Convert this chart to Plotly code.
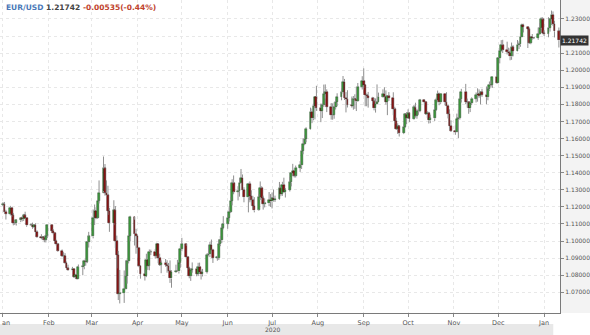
import pandas as pd
import plotly.graph_objects as go

# ---- data: EUR/USD daily, 2020-01-01 .. 2021-01-11 (weekdays) ----
dates = pd.bdate_range("2020-01-01", "2021-01-11")

close = [
    # Jan 2020
    1.1215, 1.1172, 1.1160, 1.1195, 1.1151, 1.1105, 1.1104, 1.1121, 1.1133, 1.1128, 1.1150, 1.1136,
    1.1092, 1.1097, 1.1082, 1.1093, 1.1053, 1.1025, 1.1019, 1.1021, 1.1008, 1.1032, 1.1093,
    # Feb
    1.1060, 1.1045, 1.1001, 1.0981, 1.0944, 1.0913, 1.0914, 1.0873, 1.0840, 1.0831, 1.0837, 1.0791,
    1.0803, 1.0780, 1.0847, 1.0852, 1.0882, 1.0880, 1.0995, 1.1027,
    # Mar
    1.1136, 1.1177, 1.1136, 1.1237, 1.1284, 1.1425, 1.1284, 1.1268, 1.1177, 1.1106, 1.1180, 1.1000,
    1.0918, 1.0692, 1.0695, 1.0722, 1.0794, 1.0883, 1.1030, 1.1142, 1.1044, 1.1031,
    # Apr
    1.0962, 1.0855, 1.0808, 1.0795, 1.0892, 1.0856, 1.0936, 1.0937, 1.0914, 1.0985, 1.0902, 1.0862,
    1.0874, 1.0862, 1.0857, 1.0823, 1.0781, 1.0820, 1.0826, 1.0822, 1.0874, 1.0955,
    # May
    1.0982, 1.0906, 1.0840, 1.0795, 1.0832, 1.0837, 1.0808, 1.0850, 1.0818, 1.0806, 1.0820, 1.0917,
    1.0923, 1.0977, 1.0950, 1.0902, 1.0902, 1.0981, 1.1004, 1.1076, 1.1102,
    # Jun
    1.1135, 1.1172, 1.1235, 1.1338, 1.1290, 1.1293, 1.1342, 1.1370, 1.1300, 1.1256, 1.1335, 1.1263,
    1.1243, 1.1206, 1.1179, 1.1257, 1.1309, 1.1250, 1.1218, 1.1220, 1.1243, 1.1232,
    # Jul
    1.1251, 1.1240, 1.1246, 1.1309, 1.1275, 1.1330, 1.1286, 1.1300, 1.1343, 1.1397, 1.1412, 1.1383,
    1.1428, 1.1443, 1.1526, 1.1569, 1.1596, 1.1656, 1.1755, 1.1719, 1.1790, 1.1846, 1.1778,
    # Aug
    1.1761, 1.1799, 1.1860, 1.1874, 1.1786, 1.1737, 1.1739, 1.1784, 1.1813, 1.1843, 1.1870, 1.1931,
    1.1838, 1.1830, 1.1797, 1.1792, 1.1832, 1.1829, 1.1818, 1.1904, 1.1937,
    # Sep
    1.1913, 1.1854, 1.1850, 1.1837, 1.1817, 1.1777, 1.1803, 1.1813, 1.1845, 1.1862, 1.1846, 1.1814,
    1.1848, 1.1838, 1.1771, 1.1703, 1.1657, 1.1671, 1.1631, 1.1667, 1.1741, 1.1721,
    # Oct
    1.1748, 1.1716, 1.1782, 1.1734, 1.1760, 1.1762, 1.1825, 1.1812, 1.1745, 1.1748, 1.1706, 1.1718,
    1.1768, 1.1823, 1.1861, 1.1812, 1.1860, 1.1812, 1.1792, 1.1746, 1.1673, 1.1647,
    # Nov
    1.1641, 1.1715, 1.1722, 1.1830, 1.1875, 1.1813, 1.1812, 1.1777, 1.1808, 1.1834, 1.1854, 1.1862,
    1.1852, 1.1871, 1.1857, 1.1842, 1.1888, 1.1915, 1.1913, 1.1962, 1.1927,
    # Dec
    1.2071, 1.2113, 1.2146, 1.2121, 1.2109, 1.2100, 1.2081, 1.2134, 1.2113, 1.2148, 1.2151, 1.2197,
    1.2264, 1.2254, 1.2239, 1.2160, 1.2193, 1.2188, 1.2188, 1.2213, 1.2249, 1.2297, 1.2216,
    # Jan 2021
    1.2214, 1.2248, 1.2297, 1.2324, 1.2271, 1.22277, 1.21742,
]

high = [
    1.1228, 1.1229, 1.1183, 1.1206, 1.1200, 1.1165, 1.1120, 1.1128, 1.1141, 1.1146, 1.1159, 1.1172,
    1.1139, 1.1104, 1.1108, 1.1100, 1.1104, 1.1063, 1.1040, 1.1030, 1.1031, 1.1040, 1.1096,
    1.1095, 1.1070, 1.1047, 1.1008, 1.0987, 1.0951, 1.0935, 1.0929, 1.0880, 1.0862, 1.0849, 1.0841,
    1.0808, 1.0808, 1.0863, 1.0868, 1.0891, 1.0894, 1.1000, 1.1054,
    1.1185, 1.1214, 1.1198, 1.1242, 1.1355, 1.1495, 1.1451, 1.1355, 1.1324, 1.1194, 1.1239, 1.1205,
    1.1032, 1.0942, 1.0831, 1.0828, 1.0886, 1.0893, 1.1036, 1.1148, 1.1125, 1.1072,
    1.1038, 1.0966, 1.0859, 1.0833, 1.0926, 1.0893, 1.0951, 1.0950, 1.0954, 1.0990, 1.0988, 1.0926,
    1.0887, 1.0895, 1.0888, 1.0872, 1.0887, 1.0829, 1.0862, 1.0890, 1.0879, 1.0973,
    1.1019, 1.0973, 1.0913, 1.0850, 1.0840, 1.0875, 1.0849, 1.0873, 1.0874, 1.0834, 1.0837, 1.0928,
    1.0976, 1.0996, 1.1009, 1.0955, 1.0915, 1.1010, 1.1030, 1.1098, 1.1146,
    1.1155, 1.1198, 1.1258, 1.1362, 1.1384, 1.1321, 1.1368, 1.1422, 1.1390, 1.1315, 1.1341, 1.1349,
    1.1297, 1.1265, 1.1257, 1.1275, 1.1349, 1.1321, 1.1266, 1.1250, 1.1287, 1.1275,
    1.1284, 1.1302, 1.1266, 1.1346, 1.1318, 1.1347, 1.1371, 1.1310, 1.1375, 1.1403, 1.1452, 1.1425,
    1.1442, 1.1468, 1.1546, 1.1601, 1.1622, 1.1666, 1.1781, 1.1776, 1.1807, 1.1848, 1.1909,
    1.1805, 1.1807, 1.1916, 1.1917, 1.1888, 1.1808, 1.1806, 1.1812, 1.1830, 1.1865, 1.1895, 1.1966,
    1.1949, 1.1872, 1.1883, 1.1846, 1.1849, 1.1859, 1.1903, 1.1925, 1.1965,
    1.2011, 1.1915, 1.1864, 1.1873, 1.1844, 1.1838, 1.1835, 1.1917, 1.1869, 1.1888, 1.1900, 1.1882,
    1.1851, 1.1872, 1.1871, 1.1786, 1.1722, 1.1689, 1.1679, 1.1682, 1.1745, 1.1754,
    1.1771, 1.1751, 1.1797, 1.1810, 1.1774, 1.1795, 1.1832, 1.1829, 1.1815, 1.1760, 1.1757, 1.1740,
    1.1787, 1.1839, 1.1881, 1.1869, 1.1861, 1.1860, 1.1871, 1.1800, 1.1771, 1.1707,
    1.1677, 1.1746, 1.1770, 1.1840, 1.1891, 1.1920, 1.1834, 1.1815, 1.1815, 1.1841, 1.1870, 1.1894,
    1.1888, 1.1878, 1.1891, 1.1905, 1.1902, 1.1934, 1.1941, 1.1964, 1.2002,
    1.2077, 1.2122, 1.2176, 1.2178, 1.2167, 1.2132, 1.2128, 1.2162, 1.2147, 1.2177, 1.2169, 1.2219,
    1.2273, 1.2272, 1.2256, 1.2250, 1.2201, 1.2212, 1.2194, 1.2250, 1.2276, 1.2310, 1.2310,
    1.2233, 1.2310, 1.2303, 1.2349, 1.2344, 1.2289, 1.2250,
]

low = [
    1.1205, 1.1163, 1.1126, 1.1150, 1.1142, 1.1092, 1.1094, 1.1091, 1.1111, 1.1115, 1.1118, 1.1133,
    1.1084, 1.1088, 1.1072, 1.1076, 1.1036, 1.1020, 1.1010, 1.1007, 1.0993, 1.0992, 1.1018,
    1.1051, 1.1039, 1.0993, 1.0974, 1.0939, 1.0906, 1.0891, 1.0868, 1.0835, 1.0827, 1.0822, 1.0785,
    1.0778, 1.0778, 1.0778, 1.0800, 1.0835, 1.0856, 1.0871, 1.0962,
    1.1016, 1.1094, 1.1128, 1.1131, 1.1220, 1.1293, 1.1266, 1.1260, 1.1153, 1.1054, 1.1093, 1.0960,
    1.0840, 1.0655, 1.0635, 1.0638, 1.0725, 1.0751, 1.0869, 1.0998, 1.0974, 1.0926,
    1.0904, 1.0847, 1.0780, 1.0769, 1.0789, 1.0831, 1.0829, 1.0918, 1.0897, 1.0907, 1.0870, 1.0855,
    1.0812, 1.0850, 1.0815, 1.0817, 1.0755, 1.0727, 1.0815, 1.0820, 1.0810, 1.0844,
    1.0940, 1.0896, 1.0832, 1.0782, 1.0767, 1.0815, 1.0794, 1.0795, 1.0808, 1.0775, 1.0793, 1.0810,
    1.0911, 1.0906, 1.0947, 1.0872, 1.0885, 1.0889, 1.0970, 1.0988, 1.1069,
    1.1072, 1.1115, 1.1164, 1.1209, 1.1274, 1.1238, 1.1260, 1.1334, 1.1290, 1.1227, 1.1168, 1.1227,
    1.1209, 1.1186, 1.1168, 1.1186, 1.1240, 1.1239, 1.1184, 1.1197, 1.1204, 1.1200,
    1.1191, 1.1231, 1.1229, 1.1241, 1.1263, 1.1265, 1.1281, 1.1255, 1.1290, 1.1320, 1.1380, 1.1372,
    1.1372, 1.1405, 1.1422, 1.1508, 1.1561, 1.1579, 1.1653, 1.1690, 1.1707, 1.1712, 1.1762,
    1.1696, 1.1720, 1.1785, 1.1834, 1.1755, 1.1711, 1.1710, 1.1716, 1.1770, 1.1790, 1.1824, 1.1863,
    1.1826, 1.1753, 1.1782, 1.1781, 1.1769, 1.1774, 1.1761, 1.1815, 1.1887,
    1.1896, 1.1789, 1.1789, 1.1781, 1.1804, 1.1765, 1.1752, 1.1801, 1.1812, 1.1841, 1.1823, 1.1799,
    1.1737, 1.1820, 1.1737, 1.1687, 1.1650, 1.1627, 1.1612, 1.1626, 1.1662, 1.1684,
    1.1716, 1.1696, 1.1712, 1.1723, 1.1716, 1.1739, 1.1754, 1.1795, 1.1738, 1.1721, 1.1688, 1.1690,
    1.1703, 1.1762, 1.1813, 1.1795, 1.1803, 1.1794, 1.1783, 1.1718, 1.1650, 1.1639,
    1.1622, 1.1640, 1.1603, 1.1711, 1.1811, 1.1801, 1.1781, 1.1745, 1.1755, 1.1796, 1.1811, 1.1816,
    1.1838, 1.1800, 1.1844, 1.1801, 1.1824, 1.1878, 1.1898, 1.1897, 1.1923,
    1.1925, 1.2040, 1.2109, 1.2100, 1.2092, 1.2088, 1.2058, 1.2061, 1.2081, 1.2111, 1.2124, 1.2137,
    1.2196, 1.2221, 1.2130, 1.2154, 1.2152, 1.2179, 1.2182, 1.2178, 1.2208, 1.2241, 1.2211,
    1.2200, 1.2193, 1.2226, 1.2265, 1.2260, 1.2192, 1.2133,
]

first_open = 1.1213
last_price = 1.21742
prev_close = 1.22277
month_ticks = ["Jan", "Feb", "Mar", "Apr", "May", "Jun", "Jul", "Aug", "Sep", "Oct", "Nov", "Dec", "Jan"]
price_ticks = [1.07, 1.08, 1.09, 1.10, 1.11, 1.12, 1.13, 1.14, 1.15, 1.16, 1.17, 1.18, 1.19,
               1.20, 1.21, 1.22, 1.23]

assert len(dates) == len(close) == len(high) == len(low), (len(dates), len(close), len(high), len(low))

opens = [first_open] + close[:-1]
body_lo = [min(o, c) for o, c in zip(opens, close)]
body_top = [max(o, c) for o, c in zip(opens, close)]
body_h = [max(t - b, 0.00025) for t, b in zip(body_top, body_lo)]

UP = "#3fa03f"
DOWN = "#921515"
body_fill = [UP if c >= o else DOWN for o, c in zip(opens, close)]
body_edge = ["#1d3d1d" if c >= o else "#2a0808" for o, c in zip(opens, close)]

# wick segments (upper: body top -> high, lower: low -> body bottom), separated by gaps
wick_x, wick_y = [], []
for d, h, l, t, b in zip(dates, high, low, body_top, body_lo):
    wick_x += [d, d, None, d, d, None]
    wick_y += [t, h, None, l, b, None]

fig = go.Figure()
# bodies: open-close span with a dark outline
fig.add_trace(go.Bar(
    x=dates, y=body_h, base=body_lo,
    width=1.25 * 86400000,
    marker=dict(color=body_fill, line=dict(color=body_edge, width=0.5)),
    showlegend=False, hoverinfo="skip",
))
# wicks, grey
fig.add_trace(go.Scatter(
    x=wick_x, y=wick_y, mode="lines",
    line=dict(color="#8f8f8f", width=1),
    connectgaps=False, showlegend=False, hoverinfo="skip",
))

tickvals = pd.date_range("2020-01-01", "2021-01-01", freq="MS")
# the first "Jan" label sits at the left edge; it is drawn as an annotation below
xtick_text = [""] + month_ticks[1:]
ytick_text = ["" if abs(v - 1.22) < 1e-9 else f"{v:.5f}" for v in price_ticks]
font = "DejaVu Sans"

fig.update_layout(
    width=590, height=335,
    margin=dict(l=0, r=28, t=0, b=22),
    paper_bgcolor="white", plot_bgcolor="white",
    bargap=0,
    showlegend=False,
    font=dict(family=font, size=6, color="#555"),
    xaxis=dict(
        type="date",
        range=["2019-12-30 00:00", "2021-01-11 18:00"],
        tickvals=list(tickvals), ticktext=xtick_text,
        showgrid=True, gridcolor="#e8e8e8", griddash="dot", gridwidth=1,
        ticks="outside", ticklen=3, tickcolor="#888",
        showline=True, linecolor="#7a7a7a", linewidth=1,
        tickfont=dict(family=font, size=6.5, color="#555"),
        zeroline=False, fixedrange=True,
    ),
    yaxis=dict(
        side="right",
        range=[1.0579, 1.2411],
        tickvals=price_ticks, ticktext=ytick_text,
        showgrid=True, gridcolor="#e8e8e8", griddash="dot", gridwidth=1,
        ticks="outside", ticklen=3, tickcolor="#888",
        showline=True, linecolor="#7a7a7a", linewidth=1,
        tickfont=dict(family=font, size=6, color="#555"),
        zeroline=False, fixedrange=True,
    ),
    shapes=[
        dict(type="rect", xref="paper", yref="paper", x0=1.0, x1=1.06, y0=0, y1=1,
             fillcolor="#f3f3f3", line=dict(width=0), layer="below"),
        dict(type="rect", xref="paper", yref="paper", x0=0, x1=0.988, y0=-0.0705, y1=-0.035,
             fillcolor="#e8e8e8", line=dict(width=0), layer="below"),
    ],
    annotations=[
        dict(xref="paper", yref="paper", x=0.008, y=0.997, xanchor="left", yanchor="top",
             showarrow=False, align="left",
             text=("<b><span style='color:#4a78b8'>EUR/USD</span> "
                   f"<span style='color:#444'>{last_price:.5f}</span> "
                   f"<span style='color:#c0422c'>{last_price - prev_close:.5f}"
                   f"({(last_price - prev_close) / prev_close * 100:.2f}%)</span></b>"),
             font=dict(family=font, size=7.5)),
        dict(xref="paper", yref="y", x=1.0, y=last_price, xanchor="left", yanchor="middle",
             showarrow=False, text=f"{last_price:.5f}", bgcolor="#333333",
             font=dict(family=font, size=6, color="white"), borderpad=1),
        dict(xref="paper", yref="paper", x=0.0, y=-0.012, xanchor="left", yanchor="top",
             showarrow=False, text=month_ticks[0][1:], font=dict(family=font, size=6.5, color="#555")),
        dict(xref="x", yref="paper", x="2020-07-01", y=-0.053, xanchor="center", yanchor="middle",
             showarrow=False, text="2020", font=dict(family=font, size=6, color="#555")),
    ],
)

fig.write_html("out.html")
